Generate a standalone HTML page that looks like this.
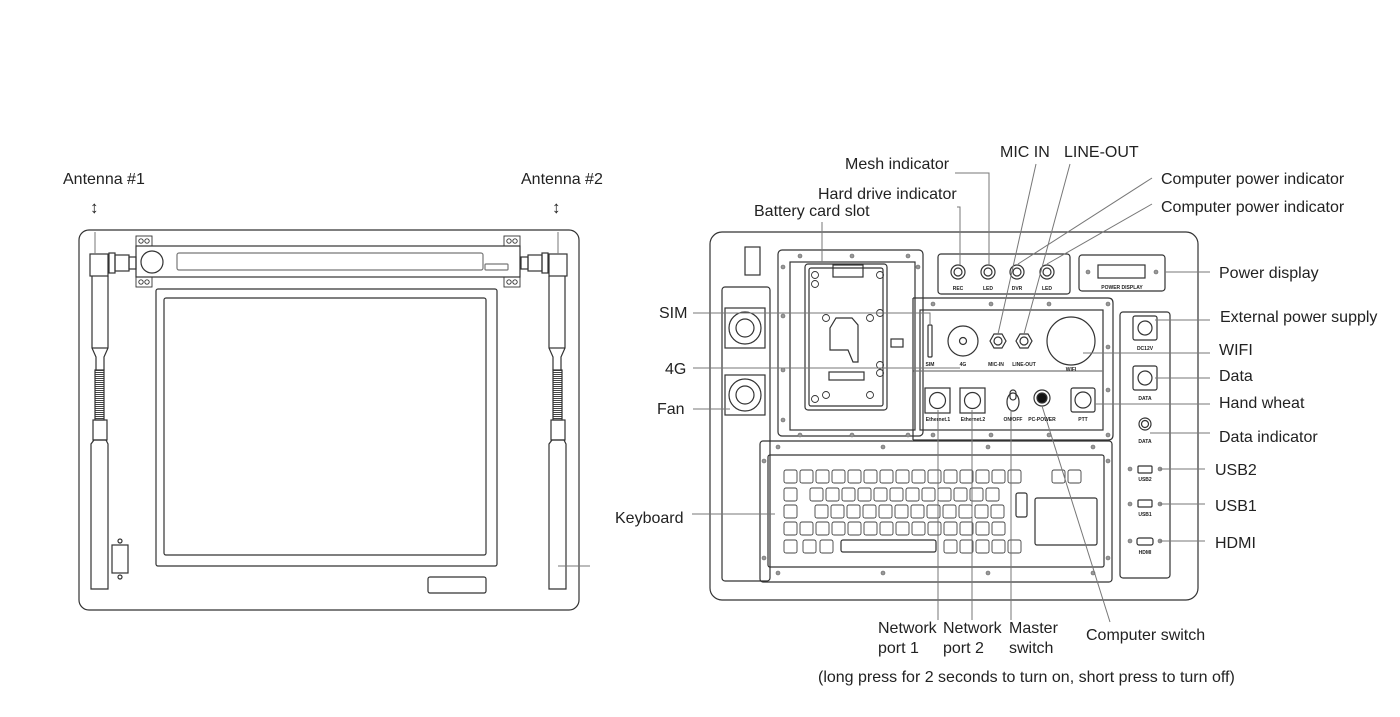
<!DOCTYPE html>
<html><head><meta charset="utf-8"><style>
html,body{margin:0;padding:0;background:#fff;}
svg{display:block;}
text{font-family:"Liberation Sans",sans-serif;fill:#222;}
.l{font-size:16px;}
.s{font-size:5px;font-weight:bold;}
</style></head><body>
<svg width="1400" height="717" viewBox="0 0 1400 717" xmlns="http://www.w3.org/2000/svg">
<defs>
<pattern id="spr" width="4" height="2" patternUnits="userSpaceOnUse"><rect width="4" height="1" fill="#444"/></pattern>
</defs>
<g fill="none" stroke="#333" stroke-width="1.2">
<!-- LEFT DEVICE -->
<rect x="79" y="230" width="500" height="380" rx="10"/>
<rect x="136" y="246" width="384" height="31"/>
<circle cx="152" cy="262" r="11"/>
<rect x="177" y="253" width="306" height="17" rx="2" stroke="#777"/>
<rect x="485" y="264" width="23" height="6" rx="1" stroke="#777"/>
<g stroke-width="0.9">
<rect x="136" y="236" width="16" height="10"/><circle cx="141" cy="241" r="2.2"/><circle cx="147" cy="241" r="2.2"/>
<rect x="136" y="277" width="16" height="10"/><circle cx="141" cy="282" r="2.2"/><circle cx="147" cy="282" r="2.2"/>
<rect x="504" y="236" width="16" height="10"/><circle cx="509" cy="241" r="2.2"/><circle cx="515" cy="241" r="2.2"/>
<rect x="504" y="277" width="16" height="10"/><circle cx="509" cy="282" r="2.2"/><circle cx="515" cy="282" r="2.2"/>
</g>
<rect x="156" y="289" width="341" height="277" rx="2"/>
<rect x="164" y="298" width="322" height="257" rx="2"/>
<rect x="428" y="577" width="58" height="16" rx="2"/>
<!-- left antenna -->
<rect x="90" y="254" width="18" height="22"/>
<rect x="109" y="253" width="6" height="20"/><rect x="115" y="255" width="14" height="16"/><rect x="129" y="257" width="7" height="12"/>
<path d="M92 276 V348 L96 357 V370 M108 276 V348 L104 357 V370"/>
<line x1="92" y1="348" x2="108" y2="348"/>
<rect x="95" y="370" width="9" height="50" fill="url(#spr)"/>
<rect x="93" y="420" width="14" height="20"/>
<path d="M91 589 V444 L94 440 H106 L108 444 V589 Z"/>
<!-- right antenna -->
<rect x="549" y="254" width="18" height="22"/>
<rect x="542" y="253" width="6" height="20"/><rect x="528" y="255" width="14" height="16"/><rect x="521" y="257" width="7" height="12"/>
<path d="M549 276 V348 L553 357 V370 M565 276 V348 L561 357 V370"/>
<line x1="549" y1="348" x2="565" y2="348"/>
<rect x="553" y="370" width="9" height="50" fill="url(#spr)"/>
<rect x="551" y="420" width="14" height="20"/>
<path d="M549 589 V444 L552 440 H564 L566 444 V589 Z"/>
<rect x="112" y="545" width="16" height="28"/>
<circle cx="120" cy="541" r="2"/><circle cx="120" cy="577" r="2"/>
</g>
<g stroke="#777" stroke-width="1" fill="none">
<line x1="95" y1="232" x2="95" y2="254"/><line x1="558" y1="232" x2="558" y2="254"/>
<line x1="558" y1="566" x2="590" y2="566"/>
</g>
<text class="l" x="63" y="184">Antenna #1</text>
<text class="l" x="521" y="184">Antenna #2</text>
<text x="90" y="213" style="font-size:17px;font-weight:bold">↕</text>
<text x="552" y="213" style="font-size:17px;font-weight:bold">↕</text>

<!-- RIGHT DEVICE -->
<g fill="none" stroke="#333" stroke-width="1.2">
<rect x="710" y="232" width="488" height="368" rx="12"/>
<rect x="745" y="247" width="15" height="28"/>
<rect x="722" y="287" width="48" height="294" rx="3"/>
<rect x="725" y="308" width="40" height="40"/><circle cx="745" cy="328" r="16"/><circle cx="745" cy="328" r="9"/>
<rect x="725" y="375" width="40" height="40"/><circle cx="745" cy="395" r="16"/><circle cx="745" cy="395" r="9"/>
<rect x="778" y="250" width="145" height="186" rx="4"/>
<rect x="790" y="262" width="125" height="168"/>
<rect x="805" y="264" width="82" height="146" rx="3"/>
<rect x="809" y="268" width="74" height="138" rx="2"/>
<rect x="833" y="265" width="30" height="12"/>
<rect x="829" y="372" width="35" height="8"/>
<path d="M830 328 V350 H848 L853 362 H858 V325 L852 318 H836 Z"/>
<rect x="891" y="339" width="12" height="8"/>
<g stroke-width="0.9">
<circle cx="815" cy="275" r="3.5"/><circle cx="815" cy="284" r="3.5"/><circle cx="880" cy="275" r="3.5"/>
<circle cx="826" cy="318" r="3.5"/><circle cx="870" cy="318" r="3.5"/><circle cx="880" cy="313" r="3.5"/>
<circle cx="880" cy="365" r="3.5"/><circle cx="880" cy="373" r="3.5"/>
<circle cx="815" cy="399" r="3.5"/><circle cx="826" cy="395" r="3.5"/><circle cx="870" cy="395" r="3.5"/>
</g>
<rect x="938" y="254" width="132" height="40" rx="3"/>
<circle cx="958" cy="272" r="7"/><circle cx="958" cy="272" r="4"/>
<circle cx="988" cy="272" r="7"/><circle cx="988" cy="272" r="4"/>
<circle cx="1017" cy="272" r="7"/><circle cx="1017" cy="272" r="4"/>
<circle cx="1047" cy="272" r="7"/><circle cx="1047" cy="272" r="4"/>
<rect x="1079" y="255" width="86" height="36" rx="3"/>
<rect x="1098" y="265" width="47" height="13"/>
<path d="M913 298 H1108 Q1113 298 1113 303 V435 Q1113 440 1108 440 H913"/>
<rect x="920" y="310" width="183" height="120"/>
<line x1="913" y1="371" x2="1103" y2="371" stroke="#777"/>
<line x1="913" y1="298" x2="913" y2="440"/>
<rect x="928" y="325" width="4" height="32" rx="1"/>
<circle cx="963" cy="341" r="15"/><circle cx="963" cy="341" r="3.5"/>
<polygon points="990,341 994,334 1002,334 1006,341 1002,348 994,348"/><circle cx="998" cy="341" r="4"/>
<polygon points="1016,341 1020,334 1028,334 1032,341 1028,348 1020,348"/><circle cx="1024" cy="341" r="4"/>
<circle cx="1071" cy="341" r="24"/>
<rect x="925" y="388" width="25" height="25"/><circle cx="937.5" cy="400.5" r="8"/>
<rect x="960" y="388" width="25" height="25"/><circle cx="972.5" cy="400.5" r="8"/>
<ellipse cx="1013" cy="402" rx="6" ry="9"/><rect x="1010" y="390" width="6" height="10" rx="3"/>
<circle cx="1042" cy="398" r="8"/><circle cx="1042" cy="398" r="5" fill="#111"/>
<rect x="1071" y="388" width="24" height="24" rx="2"/><circle cx="1083" cy="400" r="8"/>
<rect x="1120" y="312" width="50" height="266" rx="3"/>
<rect x="1133" y="316" width="24" height="24" rx="2"/><circle cx="1145" cy="328" r="7"/>
<rect x="1133" y="366" width="24" height="24" rx="2"/><circle cx="1145" cy="378" r="7"/>
<circle cx="1145" cy="424" r="6"/><circle cx="1145" cy="424" r="3.5"/>
<rect x="1138" y="466" width="14" height="7" rx="1"/>
<rect x="1138" y="500" width="14" height="7" rx="1"/>
<rect x="1137" y="538" width="16" height="7" rx="2"/>
<!-- keyboard -->
<rect x="760" y="441" width="352" height="141" rx="3"/>
<rect x="768" y="455" width="336" height="112" rx="2"/>
<rect x="1016" y="493" width="11" height="24" rx="2"/>
<rect x="1035" y="498" width="62" height="47" rx="2"/>
<rect x="841" y="540" width="95" height="12" rx="2"/>
</g>
<g fill="none" stroke="#444" stroke-width="0.9">
<rect x="784" y="470" width="13" height="13" rx="2"/><rect x="800" y="470" width="13" height="13" rx="2"/><rect x="816" y="470" width="13" height="13" rx="2"/><rect x="832" y="470" width="13" height="13" rx="2"/><rect x="848" y="470" width="13" height="13" rx="2"/><rect x="864" y="470" width="13" height="13" rx="2"/><rect x="880" y="470" width="13" height="13" rx="2"/><rect x="896" y="470" width="13" height="13" rx="2"/><rect x="912" y="470" width="13" height="13" rx="2"/><rect x="928" y="470" width="13" height="13" rx="2"/><rect x="944" y="470" width="13" height="13" rx="2"/><rect x="960" y="470" width="13" height="13" rx="2"/><rect x="976" y="470" width="13" height="13" rx="2"/><rect x="992" y="470" width="13" height="13" rx="2"/><rect x="1008" y="470" width="13" height="13" rx="2"/>
<rect x="1052" y="470" width="13" height="13" rx="2"/><rect x="1068" y="470" width="13" height="13" rx="2"/>
<rect x="784" y="488" width="13" height="13" rx="2"/>
<rect x="810" y="488" width="13" height="13" rx="2"/><rect x="826" y="488" width="13" height="13" rx="2"/><rect x="842" y="488" width="13" height="13" rx="2"/><rect x="858" y="488" width="13" height="13" rx="2"/><rect x="874" y="488" width="13" height="13" rx="2"/><rect x="890" y="488" width="13" height="13" rx="2"/><rect x="906" y="488" width="13" height="13" rx="2"/><rect x="922" y="488" width="13" height="13" rx="2"/><rect x="938" y="488" width="13" height="13" rx="2"/><rect x="954" y="488" width="13" height="13" rx="2"/><rect x="970" y="488" width="13" height="13" rx="2"/><rect x="986" y="488" width="13" height="13" rx="2"/>
<rect x="784" y="505" width="13" height="13" rx="2"/>
<rect x="815" y="505" width="13" height="13" rx="2"/><rect x="831" y="505" width="13" height="13" rx="2"/><rect x="847" y="505" width="13" height="13" rx="2"/><rect x="863" y="505" width="13" height="13" rx="2"/><rect x="879" y="505" width="13" height="13" rx="2"/><rect x="895" y="505" width="13" height="13" rx="2"/><rect x="911" y="505" width="13" height="13" rx="2"/><rect x="927" y="505" width="13" height="13" rx="2"/><rect x="943" y="505" width="13" height="13" rx="2"/><rect x="959" y="505" width="13" height="13" rx="2"/><rect x="975" y="505" width="13" height="13" rx="2"/><rect x="991" y="505" width="13" height="13" rx="2"/>
<rect x="784" y="522" width="13" height="13" rx="2"/><rect x="800" y="522" width="13" height="13" rx="2"/><rect x="816" y="522" width="13" height="13" rx="2"/><rect x="832" y="522" width="13" height="13" rx="2"/><rect x="848" y="522" width="13" height="13" rx="2"/><rect x="864" y="522" width="13" height="13" rx="2"/><rect x="880" y="522" width="13" height="13" rx="2"/><rect x="896" y="522" width="13" height="13" rx="2"/><rect x="912" y="522" width="13" height="13" rx="2"/><rect x="928" y="522" width="13" height="13" rx="2"/><rect x="944" y="522" width="13" height="13" rx="2"/><rect x="960" y="522" width="13" height="13" rx="2"/><rect x="976" y="522" width="13" height="13" rx="2"/><rect x="992" y="522" width="13" height="13" rx="2"/>
<rect x="784" y="540" width="13" height="13" rx="2"/><rect x="803" y="540" width="13" height="13" rx="2"/><rect x="820" y="540" width="13" height="13" rx="2"/>
<rect x="944" y="540" width="13" height="13" rx="2"/><rect x="960" y="540" width="13" height="13" rx="2"/><rect x="976" y="540" width="13" height="13" rx="2"/><rect x="992" y="540" width="13" height="13" rx="2"/><rect x="1008" y="540" width="13" height="13" rx="2"/>
</g>
<g fill="#999" stroke="#666" stroke-width="0.6">
<circle cx="800" cy="256" r="2"/><circle cx="852" cy="256" r="2"/><circle cx="908" cy="256" r="2"/><circle cx="783" cy="267" r="2"/><circle cx="783" cy="316" r="2"/><circle cx="783" cy="370" r="2"/><circle cx="783" cy="420" r="2"/><circle cx="918" cy="267" r="2"/>
<circle cx="800" cy="435" r="2"/><circle cx="852" cy="435" r="2"/><circle cx="908" cy="435" r="2"/>
<circle cx="933" cy="304" r="2"/><circle cx="991" cy="304" r="2"/><circle cx="1049" cy="304" r="2"/><circle cx="1108" cy="304" r="2"/><circle cx="1108" cy="347" r="2"/><circle cx="1108" cy="390" r="2"/><circle cx="1108" cy="435" r="2"/><circle cx="933" cy="435" r="2"/><circle cx="991" cy="435" r="2"/><circle cx="1049" cy="435" r="2"/>
<circle cx="1088" cy="272" r="2"/><circle cx="1156" cy="272" r="2"/>
<circle cx="778" cy="447" r="2"/><circle cx="883" cy="447" r="2"/><circle cx="988" cy="447" r="2"/><circle cx="1093" cy="447" r="2"/><circle cx="764" cy="461" r="2"/><circle cx="1108" cy="461" r="2"/><circle cx="764" cy="558" r="2"/><circle cx="1108" cy="558" r="2"/><circle cx="778" cy="573" r="2"/><circle cx="883" cy="573" r="2"/><circle cx="988" cy="573" r="2"/><circle cx="1093" cy="573" r="2"/>
<circle cx="1130" cy="469" r="2"/><circle cx="1160" cy="469" r="2"/><circle cx="1130" cy="504" r="2"/><circle cx="1160" cy="504" r="2"/><circle cx="1130" cy="541" r="2"/><circle cx="1160" cy="541" r="2"/>
</g>
<g text-anchor="middle">
<text x="958" y="290" class="s">REC</text><text x="988" y="290" class="s">LED</text><text x="1017" y="290" class="s">DVR</text><text x="1047" y="290" class="s">LED</text>
<text x="1122" y="289" class="s">POWER DISPLAY</text>
<text x="930" y="366" class="s">SIM</text><text x="963" y="366" class="s">4G</text><text x="996" y="366" class="s">MIC-IN</text><text x="1024" y="366" class="s">LINE-OUT</text><text x="1071" y="371" class="s">WIFI</text>
<text x="938" y="421" class="s">Ethernet.1</text><text x="973" y="421" class="s">Ethernet.2</text><text x="1013" y="421" class="s">ON/OFF</text><text x="1042" y="421" class="s">PC-POWER</text><text x="1083" y="421" class="s">PTT</text>
<text x="1145" y="350" class="s">DC12V</text><text x="1145" y="400" class="s">DATA</text><text x="1145" y="443" class="s">DATA</text>
<text x="1145" y="481" class="s">USB2</text><text x="1145" y="516" class="s">USB1</text><text x="1145" y="554" class="s">HDMI</text>
</g>
<g stroke="#777" stroke-width="1" fill="none">
<path d="M955 173 H989 V265"/>
<path d="M957 207 H960 V265"/>
<path d="M822 222 V262"/>
<line x1="1036" y1="164" x2="998" y2="334"/>
<line x1="1070" y1="164" x2="1024" y2="334"/>
<line x1="1152" y1="178" x2="1018" y2="264"/>
<line x1="1152" y1="204" x2="1047" y2="264"/>
<line x1="1165" y1="272" x2="1210" y2="272"/>
<path d="M693 313 H930 V325"/>
<line x1="693" y1="368" x2="960" y2="368"/>
<line x1="693" y1="409" x2="730" y2="409"/>
<line x1="692" y1="514" x2="775" y2="514"/>
<line x1="1155" y1="320" x2="1210" y2="320"/>
<line x1="1083" y1="353" x2="1210" y2="353"/>
<line x1="1155" y1="378" x2="1210" y2="378"/>
<line x1="1095" y1="404" x2="1210" y2="404"/>
<line x1="1150" y1="433" x2="1210" y2="433"/>
<line x1="1160" y1="469" x2="1205" y2="469"/>
<line x1="1160" y1="504" x2="1205" y2="504"/>
<line x1="1160" y1="541" x2="1205" y2="541"/>
<line x1="938" y1="410" x2="938" y2="620"/>
<line x1="972" y1="410" x2="972" y2="620"/>
<line x1="1011" y1="410" x2="1011" y2="620"/>
<line x1="1042" y1="406" x2="1110" y2="622"/>
</g>
<text class="l" x="845" y="169">Mesh indicator</text>
<text class="l" x="1000" y="157">MIC IN</text>
<text class="l" x="1064" y="157">LINE-OUT</text>
<text class="l" x="818" y="199">Hard drive indicator</text>
<text class="l" x="754" y="216">Battery card slot</text>
<text class="l" x="1161" y="184">Computer power indicator</text>
<text class="l" x="1161" y="212">Computer power indicator</text>
<text class="l" x="1219" y="278">Power display</text>
<text class="l" x="1220" y="322">External power supply</text>
<text class="l" x="1219" y="355">WIFI</text>
<text class="l" x="1219" y="381">Data</text>
<text class="l" x="1219" y="408">Hand wheat</text>
<text class="l" x="1219" y="442">Data indicator</text>
<text class="l" x="1215" y="475">USB2</text>
<text class="l" x="1215" y="511">USB1</text>
<text class="l" x="1215" y="548">HDMI</text>
<text class="l" x="659" y="318">SIM</text>
<text class="l" x="665" y="374">4G</text>
<text class="l" x="657" y="414">Fan</text>
<text class="l" x="615" y="523">Keyboard</text>
<text class="l" x="878" y="633">Network</text><text class="l" x="878" y="653">port 1</text>
<text class="l" x="943" y="633">Network</text><text class="l" x="943" y="653">port 2</text>
<text class="l" x="1009" y="633">Master</text><text class="l" x="1009" y="653">switch</text>
<text class="l" x="1086" y="640">Computer switch</text>
<text class="l" x="818" y="682">(long press for 2 seconds to turn on, short press to turn off)</text>
</svg>
</body></html>
